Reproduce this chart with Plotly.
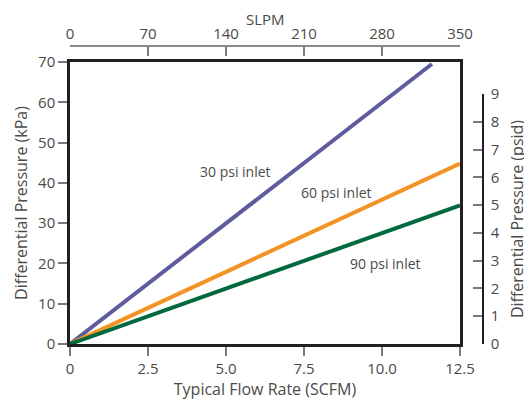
import plotly.graph_objects as go

# Data
series_names = ["30 psi inlet", "60 psi inlet", "90 psi inlet"]
series_x = [[0, 11.6], [0, 12.5], [0, 12.5]]
series_kpa = [[0, 69.5], [0, 44.8], [0, 34.4]]
series_colors = ["#5f5c9e", "#f39324", "#006a3e"]
label_pos = [(5.29, 42.7), (8.53, 37.6), (10.1, 20.0)]

x_ticks = [0, 2.5, 5.0, 7.5, 10.0, 12.5]
x_ticklabels = ["0", "2.5", "5.0", "7.5", "10.0", "12.5"]
slpm_ticks = [0, 70, 140, 210, 280, 350]
kpa_ticks = [0, 10, 20, 30, 40, 50, 60, 70]
psid_ticks = list(range(0, 10))

KPA_PER_PSI = 6.894757
font_color = "#4a4a4a"
tick_color = "#7a7a7a"
FONT = "Open Sans, Noto Sans, sans-serif"

# geometry (paper fractions)
ydom_top = 0.9463
xdom_right = 0.9443
psid_top = 9 * KPA_PER_PSI / 70 * ydom_top

fig = go.Figure()
for name, xs, ys, c in zip(series_names, series_x, series_kpa, series_colors):
    fig.add_trace(go.Scatter(x=xs, y=ys, mode="lines", name=name,
                             line=dict(color=c, width=4), showlegend=False,
                             hoverinfo="skip"))
# helper traces to activate secondary axes
fig.add_trace(go.Scatter(x=[0, 350], y=[None, None], xaxis="x2", yaxis="y",
                         mode="lines", showlegend=False, hoverinfo="skip"))
fig.add_trace(go.Scatter(x=[None, None], y=[0, 9], xaxis="x", yaxis="y2",
                         mode="lines", showlegend=False, hoverinfo="skip"))

for name, (lx, ly) in zip(series_names, label_pos):
    fig.add_annotation(x=lx, y=ly, text=name, showarrow=False,
                       font=dict(size=14, color=font_color, family=FONT),
                       xref="x", yref="y")

# top axis title
fig.add_annotation(x=175, y=1, xref="x2", yref="paper", text="SLPM",
                   showarrow=False, yanchor="middle", yshift=27,
                   font=dict(size=15, color=font_color, family=FONT))

fig.update_layout(
    width=532, height=410,
    margin=dict(l=62, r=57, t=38, b=74),
    paper_bgcolor="white", plot_bgcolor="rgba(0,0,0,0)",
    font=dict(family=FONT, size=14, color=font_color),
    xaxis=dict(domain=[0, xdom_right], range=[0, 12.5], tickvals=x_ticks,
               ticktext=x_ticklabels, showgrid=False, zeroline=False,
               showline=True, linecolor="#231f20", linewidth=2.5, mirror=True,
               ticks="outside", ticklen=9, tickcolor=tick_color, tickwidth=1.5,
               automargin=False,
               title=dict(text="Typical Flow Rate (SCFM)", standoff=5,
                          font=dict(size=16)),
               tickfont=dict(size=15)),
    xaxis2=dict(overlaying="x", side="top", anchor="free", position=1,
                range=[0, 350], tickvals=slpm_ticks, showgrid=False,
                zeroline=False, showline=True, linecolor="#8a8a8a",
                linewidth=1.5, ticks="inside", ticklen=9, automargin=False,
                tickcolor=tick_color, tickwidth=1.5,
                tickfont=dict(size=15)),
    yaxis=dict(domain=[0, ydom_top], range=[0, 70], tickvals=kpa_ticks,
               showgrid=False, zeroline=False, showline=True,
               linecolor="#231f20", linewidth=2.5, mirror=True,
               ticks="outside", ticklen=9, tickcolor=tick_color, tickwidth=1.5,
               automargin=False,
               title=dict(text="Differential Pressure (kPa)", standoff=7,
                          font=dict(size=16)),
               tickfont=dict(size=15)),
    yaxis2=dict(domain=[0, psid_top], range=[0, 9], tickvals=psid_ticks,
                anchor="free", position=1, side="right", showgrid=False,
                zeroline=False, showline=True, linecolor="#231f20",
                linewidth=1.5, ticks="inside", ticklen=9, automargin=False,
                tickcolor=tick_color, tickwidth=1.5, ticklabelstandoff=4,
                title=dict(text="Differential Pressure (psid)", standoff=12,
                           font=dict(size=16)),
                tickfont=dict(size=15)),
)

fig.write_html("out.html")
